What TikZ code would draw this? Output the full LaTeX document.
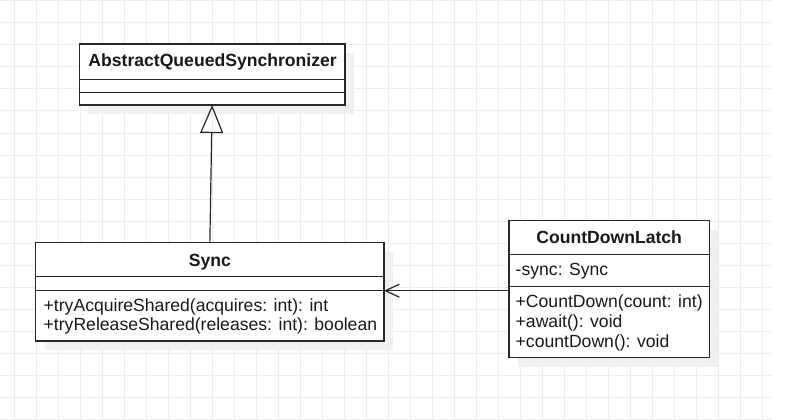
\documentclass[tikz,border=0pt]{standalone}
\usepackage{fontspec}
\setmainfont{Liberation Sans}
\usetikzlibrary{arrows.meta}
\definecolor{gridc}{RGB}{236,236,236}
\definecolor{shadowc}{RGB}{240,240,240}
\definecolor{linec}{RGB}{40,40,40}
\definecolor{textc}{RGB}{25,25,25}
\begin{document}
\begin{tikzpicture}[x=1pt,y=-1pt,
  cls/.style={draw=linec, line width=1.3pt, fill=white, inner sep=0pt, outer sep=0pt},
  shadowbox/.style={fill=shadowc, draw=none},
  sepline/.style={draw=linec, line width=1.3pt},
  ctitle/.style={inner sep=0pt, anchor=base, text=textc, font=\fontsize{17.6}{19.5}\selectfont\bfseries},
  member/.style={inner sep=0pt, anchor=base west, text=textc, font=\fontsize{17.6}{19.5}\selectfont},
  inherit/.style={draw=linec, line width=1.2pt, -{Triangle[open, length=28pt, width=23pt, line width=1.2pt]}},
  assoc/.style={draw=linec, line width=1.2pt, -{Straight Barb[length=14pt, width=13pt, line width=1.2pt]}}
]
\useasboundingbox (0,0) rectangle (788,420);
\fill[white] (0,0) rectangle (788,420);
% grid
\foreach \k in {0,...,34} \draw[gridc, line width=1pt] ({14.3+22*\k},0) -- ({14.3+22*\k},420);
\foreach \k in {0,...,19} \draw[gridc, line width=1pt] (0,{1+22*\k}) -- (772,{1+22*\k});

% shadows
\fill[shadowc] (88.3,53) rectangle (354,114);
\fill[shadowc] (44.7,251.7) rectangle (393,350);
\fill[shadowc] (518,229.7) rectangle (718.3,366.7);

% AbstractQueuedSynchronizer
\node[cls, minimum width=265.7pt, minimum height=61pt] (aqs) at (212.15,74.5) {};
\draw[sepline] (aqs.west |- 0,79.3) -- (aqs.east |- 0,79.3);
\draw[sepline] (aqs.west |- 0,92.3) -- (aqs.east |- 0,92.3);
\node[ctitle] (aqsT) at (212.6,66.7) {AbstractQueuedSynchronizer};

% Sync
\node[cls, minimum width=348.3pt, minimum height=98.3pt] (sync) at (209.85,291.85) {};
\draw[sepline] (sync.west |- 0,276.7) -- (sync.east |- 0,276.7);
\draw[sepline] (sync.west |- 0,290.7) -- (sync.east |- 0,290.7);
\node[ctitle] (syncT) at (209.85,266) {Sync};
\node[member] (syncM1) at (43.5,311.5) {+tryAcquireShared(acquires: int): int};
\node[member] (syncM2) at (43.5,330.5) {+tryReleaseShared(releases: int): boolean};

% CountDownLatch
\node[cls, minimum width=200.3pt, minimum height=137pt] (cdl) at (609.15,289.2) {};
\draw[sepline] (cdl.west |- 0,254.3) -- (cdl.east |- 0,254.3);
\draw[sepline] (cdl.west |- 0,286.7) -- (cdl.east |- 0,286.7);
\node[ctitle] (cdlT) at (609.15,243.3) {CountDownLatch};
\node[member] (cdlA1) at (515.5,275.7) {-sync: Sync};
\node[member] (cdlM1) at (515.5,307.7) {+CountDown(count: int)};
\node[member] (cdlM2) at (515.5,327.3) {+await(): void};
\node[member] (cdlM3) at (515.5,347.0) {+countDown(): void};

% connectors
\draw[inherit] (sync.north) -- (aqs.south);
\coordinate (assocY) at (0,290.7);
\draw[assoc] (cdl.west |- assocY) -- (sync.east |- assocY);
\end{tikzpicture}
\end{document}
